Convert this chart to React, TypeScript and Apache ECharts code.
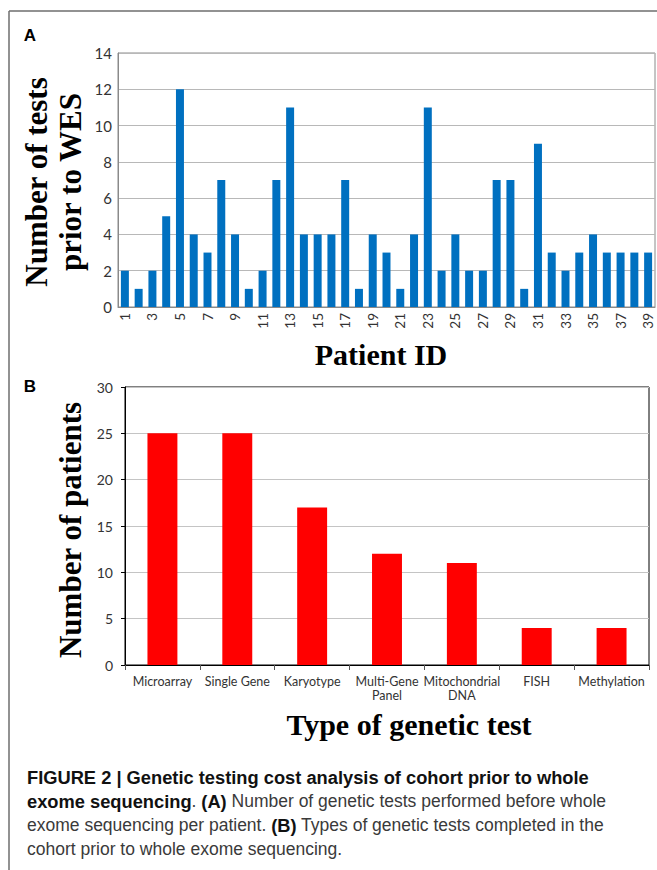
import React, { useEffect, useRef } from "react";
import * as echarts from "echarts";

const patientIds = ["1","2","3","4","5","6","7","8","9","10","11","12","13","14","15","16","17","18","19","20","21","22","23","24","25","26","27","28","29","30","31","32","33","34","35","36","37","38","39"];
const testsPerPatient = [2,1,2,5,12,4,3,7,4,1,2,7,11,4,4,4,7,1,4,3,1,4,11,2,4,2,2,7,7,1,9,3,2,3,4,3,3,3,3];

const testTypes = ["Microarray","Single Gene","Karyotype","Multi-Gene\nPanel","Mitochondrial\nDNA","FISH","Methylation"];
const patientsPerType = [25,25,17,12,11,4,4];

const titleA = "A";
const titleB = "B";
const yTitleA1 = "Number of tests";
const yTitleA2 = "prior to WES";
const xTitleA = "Patient ID";
const yTitleB = "Number of patients";
const xTitleB = "Type of genetic test";

const tickFont = "Lato, 'Open Sans', sans-serif";
const serif = "'Liberation Serif', 'DejaVu Serif', serif";
const sans = "'Liberation Sans', Arial, sans-serif";

export default function App() {
  const ref = useRef<HTMLDivElement>(null);
  useEffect(() => {
    if (!ref.current) return;
    const chart = echarts.init(ref.current, null, { renderer: "svg" });
    chart.setOption({
      animation: false,
      backgroundColor: "#ffffff",
      grid: [
        { left: 118, top: 53, width: 537, height: 254, show: true, borderColor: "#8a8a8a", borderWidth: 1, containLabel: false },
        { left: 125, top: 387, width: 524, height: 278, show: true, borderColor: "#000000", borderWidth: 1, containLabel: false },
      ],
      xAxis: [
        {
          gridIndex: 0, type: "category", data: patientIds,
          axisLine: { lineStyle: { color: "#8a8a8a" } },
          axisTick: { show: false },
          axisLabel: { interval: 1, rotate: 90, fontFamily: tickFont, fontSize: 13.5, color: "#333", margin: 6 },
        },
        {
          gridIndex: 1, type: "category", data: testTypes,
          axisLine: { lineStyle: { color: "#000" } },
          axisTick: { show: true, length: 5, lineStyle: { color: "#555" } },
          axisLabel: { interval: 0, fontFamily: tickFont, fontSize: 12.5, color: "#333", margin: 9, lineHeight: 14 },
        },
      ],
      yAxis: [
        {
          gridIndex: 0, type: "value", min: 0, max: 14, interval: 2,
          axisLine: { show: true, lineStyle: { color: "#8a8a8a" } },
          axisTick: { show: false },
          splitLine: { lineStyle: { color: "#b8b8b8" } },
          axisLabel: { fontFamily: tickFont, fontSize: 15, color: "#333", margin: 6 },
        },
        {
          gridIndex: 1, type: "value", min: 0, max: 30, interval: 5,
          axisLine: { show: true, lineStyle: { color: "#000" } },
          axisTick: { show: true, length: 4, lineStyle: { color: "#000" } },
          splitLine: { lineStyle: { color: "#c4c4c4" } },
          axisLabel: { fontFamily: tickFont, fontSize: 14, color: "#333", margin: 12 },
        },
      ],
      series: [
        { type: "bar", xAxisIndex: 0, yAxisIndex: 0, data: testsPerPatient, barWidth: "58%", itemStyle: { color: "#0070C0" } },
        { type: "bar", xAxisIndex: 1, yAxisIndex: 1, data: patientsPerType, barWidth: "40%", itemStyle: { color: "#FF0000" } },
      ],
      graphic: [
        { type: "line", shape: { x1: 9, y1: 11, x2: 657, y2: 11 }, style: { stroke: "#6e6e6e", lineWidth: 1.5 } },
        { type: "line", shape: { x1: 9, y1: 11, x2: 9, y2: 870 }, style: { stroke: "#6e6e6e", lineWidth: 1.5 } },
        { type: "text", x: 30, y: 35, style: { text: titleA, font: `bold 17px ${sans}`, fill: "#000", textAlign: "center", textVerticalAlign: "middle" } },
        { type: "text", x: 30, y: 386, style: { text: titleB, font: `bold 17px ${sans}`, fill: "#000", textAlign: "center", textVerticalAlign: "middle" } },
        { type: "text", x: 36, y: 182, rotation: Math.PI / 2, style: { text: yTitleA1, font: `bold 31px ${serif}`, fill: "#000", textAlign: "center", textVerticalAlign: "middle" } },
        { type: "text", x: 70, y: 182, rotation: Math.PI / 2, style: { text: yTitleA2, font: `bold 31px ${serif}`, fill: "#000", textAlign: "center", textVerticalAlign: "middle" } },
        { type: "text", x: 381, y: 354, style: { text: xTitleA, font: `bold 30px ${serif}`, fill: "#000", textAlign: "center", textVerticalAlign: "middle" } },
        { type: "text", x: 70, y: 530, rotation: Math.PI / 2, style: { text: yTitleB, font: `bold 31px ${serif}`, fill: "#000", textAlign: "center", textVerticalAlign: "middle" } },
        { type: "text", x: 409, y: 724, style: { text: xTitleB, font: `bold 30px ${serif}`, fill: "#000", textAlign: "center", textVerticalAlign: "middle" } },
        {
          type: "text", x: 27, y: 765,
          style: {
            text: "{b|FIGURE 2 | Genetic testing cost analysis of cohort prior to whole}\n{b|exome sequencing}{n|. }{b|(A)}{n| Number of genetic tests performed before whole}\n{n|exome sequencing per patient. }{b|(B)}{n| Types of genetic tests completed in the}\n{n|cohort prior to whole exome sequencing.}",
            font: `17px ${sans}`,
            fill: "#333",
            rich: {
              b: { font: `bold 18.3px ${sans}`, fill: "#111", lineHeight: 24 },
              n: { font: `17.5px ${sans}`, fill: "#3a3a3a", lineHeight: 24 },
            },
          },
        },
      ],
    });
    return () => chart.dispose();
  }, []);
  return <div ref={ref} style={{ position: "absolute", left: 0, top: 0, width: 657, height: 870 }} />;
}
